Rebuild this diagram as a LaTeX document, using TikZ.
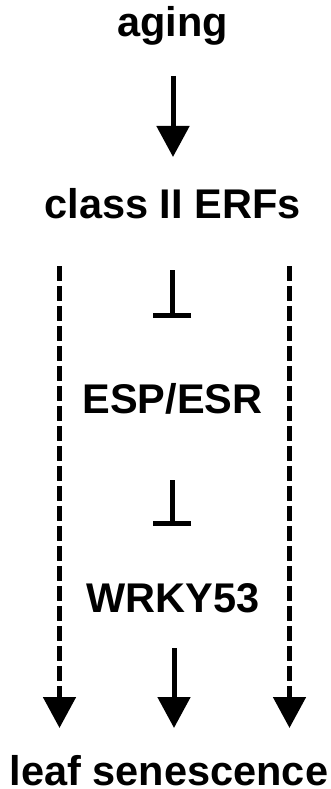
\documentclass[tikz,border=0pt]{standalone}
\usepackage{fontspec}
\setmainfont{Liberation Sans}
\usetikzlibrary{arrows.meta,calc}
\begin{document}
\begin{tikzpicture}[x=1pt,y=-1pt,
  label/.style={font=\fontsize{41.5}{48}\selectfont\bfseries, inner sep=0pt, anchor=base},
  arr/.style={line width=5pt, -{Triangle[width=32pt,length=31pt]}},
  dasharr/.style={arr, dash pattern=on 15pt off 5pt},
  inhib/.style={line width=5pt, -{Bar[width=38pt]}}]
  \useasboundingbox (0,0) rectangle (331,789);
  % pathway members, placed by their baselines
  \node[label] (aging) at (172.5,37) {aging};
  \node[label] (erf)   at (172.5,218) {class II ERFs};
  \node[label] (esp)   at (172.5,413) {ESP/ESR};
  \node[label] (wrky)  at (173,612) {WRKY53};
  \node[label] (leaf)  at (169,785) {leaf senescence};
  % aging promotes class II ERFs
  \draw[arr] ($(aging.base)+(0.5,39)$) -- ($(erf.base)+(0.5,-61)$);
  % ERFs repress ESP/ESR, which represses WRKY53
  \draw[inhib] ($(erf.base)+(-0.5,52)$) -- ($(esp.base)+(-0.5,-95)$);
  \draw[inhib] ($(esp.base)+(-0.5,67)$) -- ($(wrky.base)+(-1,-86)$);
  % WRKY53 promotes leaf senescence
  \draw[arr] ($(wrky.base)+(1,36)$) -- ($(leaf.base)+(5,-57)$);
  % indirect routes from the ERFs to senescence
  \draw[dasharr] ($(erf.base)+(-113,48)$) -- ($(leaf.base)+(-109.5,-57)$);
  \draw[dasharr] ($(erf.base)+(117,48)$) -- ($(leaf.base)+(120.5,-57)$);
\end{tikzpicture}
\end{document}
